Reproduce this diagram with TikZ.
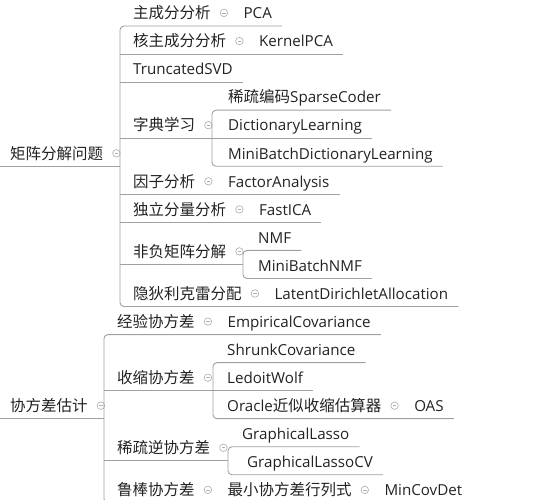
\documentclass[tikz,border=0pt]{standalone}
\usepackage{fontspec}
\setmainfont{Open Sans}
\newfontfamily\cjk{Noto Sans CJK SC}
\usepackage{tikz}
\definecolor{inkc}{HTML}{222222}
\definecolor{linec}{HTML}{A0A0A0}
\definecolor{dotc}{HTML}{B0B0B0}

\begin{document}
\begin{tikzpicture}[x=1pt,y=-1pt]
  \tikzset{lab/.style = {anchor=south west,inner sep=0pt,text depth=7pt,text=inkc,font=\cjk\fontsize{15.5}{18}\selectfont}}
  \tikzset{val/.style = {lab,font=\fontsize{15.15}{18}\selectfont}}
  \tikzset{fold/.style = {circle,draw=dotc,line width=0.65pt,minimum size=7.5pt,inner sep=0pt,
    path picture={\draw[dotc,line width=0.65pt] ([xshift=-1.9pt]path picture bounding box.center) -- ([xshift=1.9pt]path picture bounding box.center);}}}
  \tikzset{branch/.style = {draw=linec,line width=0.9pt}}
  \tikzset{bracket/.style = {branch,rounded corners=4pt}}

  \useasboundingbox (0,0) rectangle (542,500);
  \clip (0,0) rectangle (542,500);

  \coordinate (mA) at (120,0);
  \coordinate (mDict) at (212,0);
  \coordinate (mNmf) at (243,0);
  \coordinate (mB) at (104,0);
  \coordinate (mShr) at (213,0);
  \coordinate (mSpi) at (228,0);

  % matrix decomposition
  \node[lab] (jzfj) at (10,166.3) {矩阵分解问题};
  \path (jzfj.south east) ++(13,-13) node[fold] (jzfjD) {};

  \node[lab] (zcf) at (133,26) {主成分分析};
  \path (zcf.south east) ++(13,-13) node[fold] (zcfD) {};
  \path (zcfD.center) ++(19.5,13) node[val] (pca) {PCA};

  \node[lab] (hzc) at (133,54.1) {核主成分分析};
  \path (hzc.south east) ++(13,-13) node[fold] (hzcD) {};
  \path (hzcD.center) ++(19.5,13) node[val] (kpca) {KernelPCA};

  \node[val] (tsvd) at (133,82.1) {TruncatedSVD};

  \node[lab] (zdxx) at (133,138.2) {字典学习};
  \path (zdxx.south east) ++(13,-13) node[fold] (zdxxD) {};
  \node[val] (sc) at (228,110.2) {{\cjk\fontsize{15.5}{18}\selectfont 稀疏编码}SparseCoder};
  \node[val] (dl) at (228,138.2) {DictionaryLearning};
  \node[val] (mbdl) at (228,166.3) {MiniBatchDictionaryLearning};

  \node[lab] (yzfx) at (133,194.3) {因子分析};
  \path (yzfx.south east) ++(13,-13) node[fold] (yzfxD) {};
  \path (yzfxD.center) ++(19.5,13) node[val] (fa) {FactorAnalysis};

  \node[lab] (dlfl) at (133,222.4) {独立分量分析};
  \path (dlfl.south east) ++(13,-13) node[fold] (dlflD) {};
  \path (dlflD.center) ++(19.5,13) node[val] (ica) {FastICA};

  \node[lab] (ffjz) at (133,264.4) {非负矩阵分解};
  \path (ffjz.south east) ++(13,-13) node[fold] (ffjzD) {};
  \node[val] (nmf) at (258,250.4) {NMF};
  \node[val] (mbnmf) at (258,278.5) {MiniBatchNMF};

  \node[lab] (ydl) at (133,306.5) {隐狄利克雷分配};
  \path (ydl.south east) ++(13,-13) node[fold] (ydlD) {};
  \path (ydlD.center) ++(19.5,13) node[val] (lda) {LatentDirichletAllocation};

  % covariance estimation
  \node[lab] (xfc) at (10,418.7) {协方差估计};
  \path (xfc.south east) ++(13,-13) node[fold] (xfcD) {};

  \node[lab] (jyx) at (117,334.6) {经验协方差};
  \path (jyx.south east) ++(13,-13) node[fold] (jyxD) {};
  \path (jyxD.center) ++(19.5,13) node[val] (emp) {EmpiricalCovariance};

  \node[lab] (ssx) at (117,390.7) {收缩协方差};
  \path (ssx.south east) ++(13,-13) node[fold] (ssxD) {};
  \node[val] (shrunk) at (227,362.6) {ShrunkCovariance};
  \node[val] (lw) at (227,390.7) {LedoitWolf};
  \node[val] (oracle) at (227,418.7) {Oracle{\cjk\fontsize{15.5}{18}\selectfont 近似收缩估算器}};
  \path (oracle.south east) ++(13,-13) node[fold] (oracleD) {};
  \path (oracleD.center) ++(19.5,13) node[val] (oas) {OAS};

  \node[lab] (sni) at (117,460.8) {稀疏逆协方差};
  \path (sni.south east) ++(13,-13) node[fold] (sniD) {};
  \node[val] (gl) at (242,446.8) {GraphicalLasso};
  \node[val] (glcv) at (247,474.8) {GraphicalLassoCV};

  \node[lab] (lb) at (117,502.9) {鲁棒协方差};
  \path (lb.south east) ++(13,-13) node[fold] (lbD) {};
  \path (lbD.center) ++(19.5,13) node[lab] (zxh) {最小协方差行列式};
  \path (zxh.south east) ++(13,-13) node[fold] (zxhD) {};
  \path (zxhD.center) ++(19.5,13) node[val] (mcd) {MinCovDet};

  % underlines and brackets
  \foreach \r/\m in {jzfj/mA, xfc/mB}
    \draw[branch] ([xshift=-10pt]\r.south west) -- (\r.south -| \m);

  \foreach \m/\n in {mA/kpca, mA/tsvd, mA/dl, mA/fa, mA/ica, mB/lw}
    \draw[branch] (\n.south -| \m) -- ([xshift=10pt]\n.south east);

  \foreach \m/\p/\s in {mA/ffjz/mNmf, mB/sni/mSpi}
    \draw[branch] (\p.south -| \m) -- (\p.south -| \s);

  \foreach \m/\a/\b in {mA/pca/lda, mDict/sc/mbdl, mNmf/nmf/mbnmf, mB/emp/mcd, mShr/shrunk/oas, mSpi/gl/glcv}
    \draw[bracket] ([xshift=10pt]\a.south east) -- (\a.south -| \m) -- (\b.south -| \m) -- ([xshift=10pt]\b.south east);

\end{tikzpicture}
\end{document}
